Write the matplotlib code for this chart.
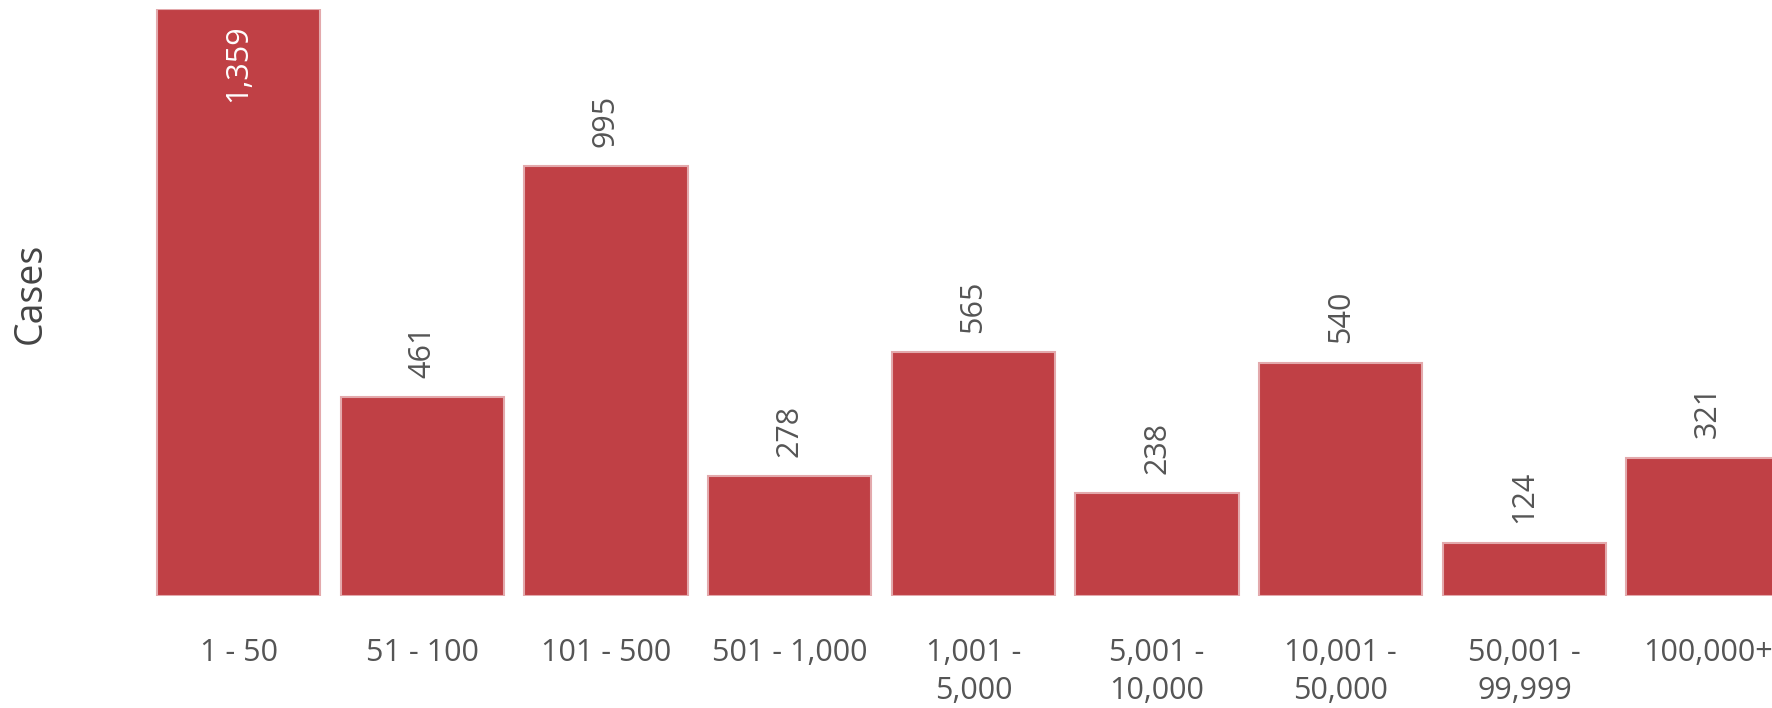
import matplotlib
matplotlib.use("Agg")
import matplotlib.pyplot as plt

# case counts by bucket
categories = ["1 - 50", "51 - 100", "101 - 500", "501 - 1,000", "1,001 -\n5,000",
              "5,001 -\n10,000", "10,001 -\n50,000", "50,001 -\n99,999", "100,000+"]
cases = [1359, 461, 995, 278, 565, 238, 540, 124, 321]

bar_color = "#c04045"
edge_color = "#e3a9ac"
text_gray = "#555555"

plt.rcParams["font.family"] = ["Open Sans", "DejaVu Sans"]

fig = plt.figure(figsize=(17.72, 7.08), dpi=100)
ax = fig.add_axes([0.0828, 0.158, 0.933, 0.829])

x = list(range(len(categories)))
ax.bar(x, cases, width=0.89, color=bar_color, edgecolor=edge_color, linewidth=1.5)

ax.set_xlim(-0.5, len(categories) - 0.5)
ax.set_ylim(0, max(cases))

for i, v in enumerate(cases):
    label = f"{v:,}"
    if v == max(cases):
        ax.annotate(label, (i, v), xytext=(0, -11), textcoords="offset points",
                    rotation=90, ha="center", va="top", color="white", fontsize=22)
    else:
        ax.annotate(label, (i, v), xytext=(0, 14), textcoords="offset points",
                    rotation=90, ha="center", va="bottom", color=text_gray, fontsize=22)

ax.set_xticks(x)
ax.set_xticklabels(categories, fontsize=22, color=text_gray, linespacing=1.35, va="top")
ax.tick_params(axis="x", length=0, pad=30)
ax.set_yticks([])
for s in ax.spines.values():
    s.set_visible(False)

fig.text(0.0175, 0.585, "Cases", rotation=90, ha="center", va="center",
         fontsize=27, color="#444444")

fig.savefig("out.png", dpi=100)
